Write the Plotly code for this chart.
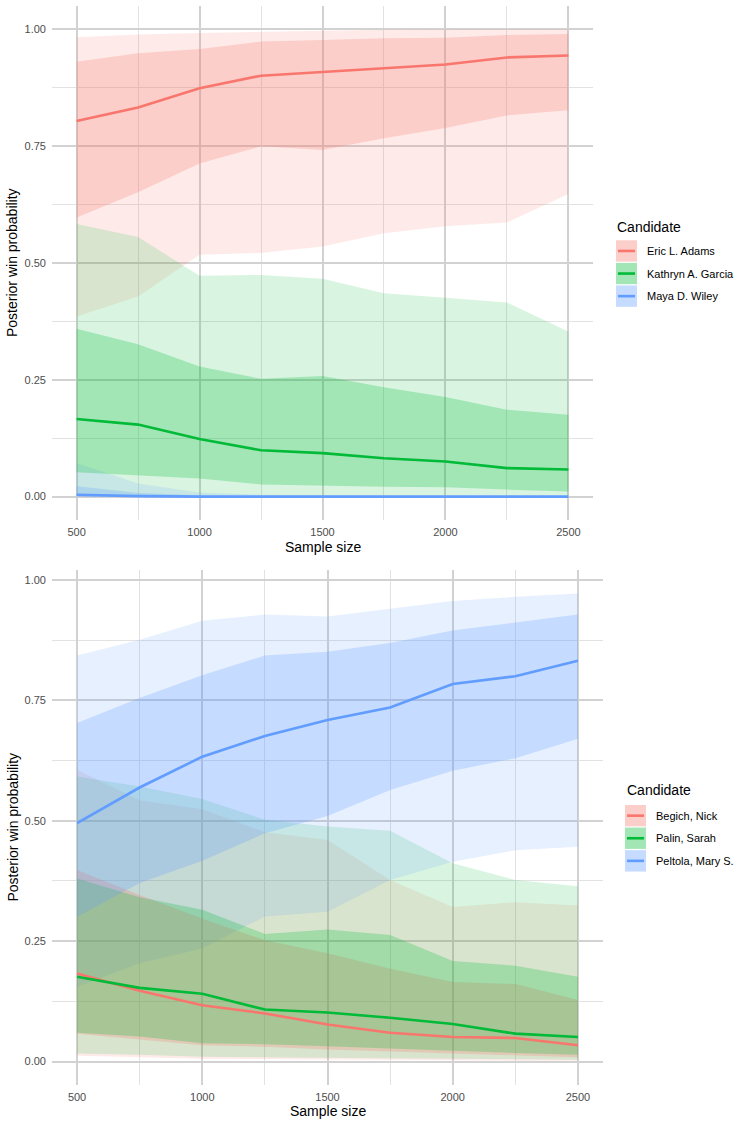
import plotly.graph_objects as go

# ---------------- data ----------------
sample_sizes = [500, 750, 1000, 1250, 1500, 1750, 2000, 2250, 2500]

# Top panel (NYC)
nyc_candidates = ["Eric L. Adams", "Kathryn A. Garcia", "Maya D. Wiley"]
adams_med    = [0.803, 0.832, 0.873, 0.900, 0.908, 0.916, 0.924, 0.939, 0.943]
adams_in_lo  = [0.597, 0.651, 0.712, 0.749, 0.741, 0.766, 0.788, 0.815, 0.826]
adams_in_hi  = [0.930, 0.948, 0.957, 0.973, 0.976, 0.980, 0.981, 0.987, 0.989]
adams_out_lo = [0.385, 0.428, 0.517, 0.521, 0.535, 0.563, 0.578, 0.586, 0.647]
adams_out_hi = [0.982, 0.988, 0.991, 0.994, 0.996, 0.998, 0.999, 0.999, 0.999]

garcia_med    = [0.166, 0.154, 0.123, 0.099, 0.093, 0.082, 0.075, 0.061, 0.058]
garcia_in_lo  = [0.052, 0.046, 0.039, 0.026, 0.024, 0.021, 0.020, 0.015, 0.011]
garcia_in_hi  = [0.359, 0.326, 0.278, 0.252, 0.258, 0.234, 0.213, 0.186, 0.175]
garcia_out_lo = [0.004, 0.003, 0.002, 0.002, 0.001, 0.001, 0.001, 0.001, 0.001]
garcia_out_hi = [0.583, 0.555, 0.472, 0.474, 0.466, 0.435, 0.425, 0.415, 0.353]

wiley_med    = [0.004, 0.001, 0.000, 0.000, 0.000, 0.000, 0.000, 0.000, 0.000]
wiley_in_lo  = [0.000, 0.000, 0.000, 0.000, 0.000, 0.000, 0.000, 0.000, 0.000]
wiley_in_hi  = [0.022, 0.008, 0.003, 0.001, 0.001, 0.000, 0.000, 0.000, 0.000]
wiley_out_lo = [0.000, 0.000, 0.000, 0.000, 0.000, 0.000, 0.000, 0.000, 0.000]
wiley_out_hi = [0.072, 0.028, 0.009, 0.004, 0.003, 0.002, 0.002, 0.001, 0.001]

# Bottom panel (Alaska)
ak_candidates = ["Begich, Nick", "Palin, Sarah", "Peltola, Mary S."]
begich_med    = [0.183, 0.147, 0.117, 0.100, 0.077, 0.060, 0.051, 0.049, 0.034]
begich_in_lo  = [0.058, 0.046, 0.034, 0.031, 0.025, 0.021, 0.017, 0.013, 0.009]
begich_in_hi  = [0.398, 0.346, 0.297, 0.252, 0.225, 0.193, 0.165, 0.161, 0.128]
begich_out_lo = [0.012, 0.009, 0.006, 0.005, 0.004, 0.003, 0.003, 0.002, 0.002]
begich_out_hi = [0.606, 0.542, 0.524, 0.476, 0.460, 0.377, 0.321, 0.331, 0.324]

palin_med    = [0.176, 0.153, 0.141, 0.108, 0.102, 0.091, 0.078, 0.058, 0.051]
palin_in_lo  = [0.060, 0.052, 0.038, 0.036, 0.032, 0.027, 0.022, 0.018, 0.014]
palin_in_hi  = [0.380, 0.341, 0.315, 0.265, 0.274, 0.263, 0.209, 0.199, 0.176]
palin_out_lo = [0.017, 0.014, 0.010, 0.009, 0.008, 0.007, 0.006, 0.005, 0.004]
palin_out_hi = [0.592, 0.571, 0.545, 0.502, 0.488, 0.479, 0.412, 0.377, 0.364]

peltola_med    = [0.495, 0.569, 0.633, 0.676, 0.709, 0.735, 0.784, 0.800, 0.832]
peltola_in_lo  = [0.300, 0.371, 0.417, 0.474, 0.510, 0.564, 0.604, 0.630, 0.670]
peltola_in_hi  = [0.703, 0.755, 0.802, 0.843, 0.851, 0.869, 0.895, 0.911, 0.928]
peltola_out_lo = [0.155, 0.204, 0.235, 0.301, 0.311, 0.377, 0.415, 0.439, 0.446]
peltola_out_hi = [0.843, 0.876, 0.915, 0.928, 0.924, 0.940, 0.956, 0.965, 0.972]

x_ticks = [500, 1000, 1500, 2000, 2500]
y_ticks = [0.0, 0.25, 0.5, 0.75, 1.0]
y_tick_labels = ["0.00", "0.25", "0.50", "0.75", "1.00"]

# ---------------- style ----------------
W, H = 741, 1125
RGB = [(248, 118, 109), (0, 186, 56), (97, 156, 255)]
OUT_A, IN_A = 0.15, 0.25
FONT = "Liberation Sans, Arial, Helvetica, sans-serif"


def rgba(c, a):
    return "rgba(%d,%d,%d,%.3f)" % (c[0], c[1], c[2], a)


def hexc(c):
    return "#%02X%02X%02X" % c


def pxx(x):
    return x / W


def pxy(y):
    return 1 - y / H


panels = [
    dict(xa="x", ya="y", names=nyc_candidates,
         series=[(adams_med, adams_in_lo, adams_in_hi, adams_out_lo, adams_out_hi),
                 (garcia_med, garcia_in_lo, garcia_in_hi, garcia_out_lo, garcia_out_hi),
                 (wiley_med, wiley_in_lo, wiley_in_hi, wiley_out_lo, wiley_out_hi)]),
    dict(xa="x2", ya="y2", names=ak_candidates,
         series=[(begich_med, begich_in_lo, begich_in_hi, begich_out_lo, begich_out_hi),
                 (palin_med, palin_in_lo, palin_in_hi, palin_out_lo, palin_out_hi),
                 (peltola_med, peltola_in_lo, peltola_in_hi, peltola_out_lo, peltola_out_hi)]),
]

fig = go.Figure()
xs = sample_sizes
for p in panels:
    # outer ribbons
    for (med, ilo, ihi, olo, ohi), c in zip(p["series"], RGB):
        fig.add_trace(go.Scatter(x=xs + xs[::-1], y=ohi + olo[::-1], fill="toself",
                                 fillcolor=rgba(c, OUT_A), line=dict(width=0), mode="lines",
                                 hoverinfo="skip", showlegend=False, xaxis=p["xa"], yaxis=p["ya"]))
    # inner ribbons
    for (med, ilo, ihi, olo, ohi), c in zip(p["series"], RGB):
        fig.add_trace(go.Scatter(x=xs + xs[::-1], y=ihi + ilo[::-1], fill="toself",
                                 fillcolor=rgba(c, IN_A), line=dict(width=0), mode="lines",
                                 hoverinfo="skip", showlegend=False, xaxis=p["xa"], yaxis=p["ya"]))
    # median lines
    for (med, ilo, ihi, olo, ohi), c, n in zip(p["series"], RGB, p["names"]):
        fig.add_trace(go.Scatter(x=xs, y=med, mode="lines", name=n,
                                 line=dict(color=hexc(c), width=2.6),
                                 showlegend=False, xaxis=p["xa"], yaxis=p["ya"]))

MAJ = dict(color="#D2D2D2", width=1.5)
MIN = dict(color="#E2E2E2", width=1.0)


def xaxis(domain, anchor):
    return dict(domain=domain, anchor=anchor, range=[400, 2600],
                tickmode="array", tickvals=x_ticks, ticktext=[str(v) for v in x_ticks],
                showgrid=True, gridcolor=MAJ["color"], gridwidth=MAJ["width"],
                minor=dict(dtick=250, tick0=500, showgrid=True, gridcolor=MIN["color"],
                           gridwidth=MIN["width"]),
                zeroline=False, showline=False, ticks="",
                tickfont=dict(family=FONT, size=11, color="#4D4D4D"),
                ticklabelstandoff=4)


def yaxis(domain, anchor, rng):
    return dict(domain=domain, anchor=anchor, range=rng,
                tickmode="array", tickvals=y_ticks, ticktext=y_tick_labels,
                showgrid=True, gridcolor=MAJ["color"], gridwidth=MAJ["width"],
                minor=dict(dtick=0.125, tick0=0, showgrid=True, gridcolor=MIN["color"],
                           gridwidth=MIN["width"]),
                zeroline=False, showline=False, ticks="",
                tickfont=dict(family=FONT, size=11, color="#4D4D4D"),
                ticklabelstandoff=5)


top_max = max(adams_out_hi)
bot_max = max(peltola_out_hi)

fig.update_layout(
    width=W, height=H, autosize=False,
    margin=dict(l=0, r=0, t=0, b=0),
    paper_bgcolor="white", plot_bgcolor="white",
    showlegend=False,
    font=dict(family=FONT, color="black"),
    xaxis=xaxis([pxx(52), pxx(593)], "y"),
    yaxis=yaxis([pxy(520), pxy(6)], "x", [-0.05 * top_max, top_max * 1.05]),
    xaxis2=xaxis([pxx(52), pxx(603)], "y2"),
    yaxis2=yaxis([pxy(1085), pxy(570)], "x2", [-0.05 * bot_max, bot_max * 1.05]),
)

annotations = []
shapes = []
# axis titles
for cx, cy in [(322.5, 546.5), (327.5, 1110.5)]:
    annotations.append(dict(text="Sample size", x=pxx(cx), y=pxy(cy), xref="paper", yref="paper",
                            showarrow=False, xanchor="center", yanchor="middle",
                            font=dict(family=FONT, size=14, color="black")))
for cy in [263, 827.5]:
    annotations.append(dict(text="Posterior win probability", x=pxx(12), y=pxy(cy),
                            xref="paper", yref="paper", textangle=-90,
                            showarrow=False, xanchor="center", yanchor="middle",
                            font=dict(family=FONT, size=14, color="black")))

# legends (drawn as keys + labels)
legends = [
    dict(names=nyc_candidates, title_x=615, title_y=226.5, key_x=616, top=240.3, label_x=645),
    dict(names=ak_candidates, title_x=625, title_y=790, key_x=625, top=805, label_x=654),
]
for lg in legends:
    annotations.append(dict(text="Candidate", x=pxx(lg["title_x"]), y=pxy(lg["title_y"]),
                            xref="paper", yref="paper", showarrow=False,
                            xanchor="left", yanchor="middle",
                            font=dict(family=FONT, size=14, color="black")))
    for i, (n, c) in enumerate(zip(lg["names"], RGB)):
        t = lg["top"] + 22.6 * i
        b = t + 21.3
        x0, x1 = lg["key_x"], lg["key_x"] + 21
        for a in (OUT_A, IN_A):
            shapes.append(dict(type="rect", xref="paper", yref="paper",
                               x0=pxx(x0), x1=pxx(x1), y0=pxy(b), y1=pxy(t),
                               fillcolor=rgba(c, a), line=dict(width=0)))
        ym = (t + b) / 2
        shapes.append(dict(type="line", xref="paper", yref="paper",
                           x0=pxx(x0 + 2), x1=pxx(x1 - 2), y0=pxy(ym), y1=pxy(ym),
                           line=dict(color=hexc(c), width=2.6)))
        annotations.append(dict(text=n, x=pxx(lg["label_x"]), y=pxy(ym),
                                xref="paper", yref="paper", showarrow=False,
                                xanchor="left", yanchor="middle",
                                font=dict(family=FONT, size=11, color="black")))

fig.update_layout(annotations=annotations, shapes=shapes)
fig.write_html("out.html")
